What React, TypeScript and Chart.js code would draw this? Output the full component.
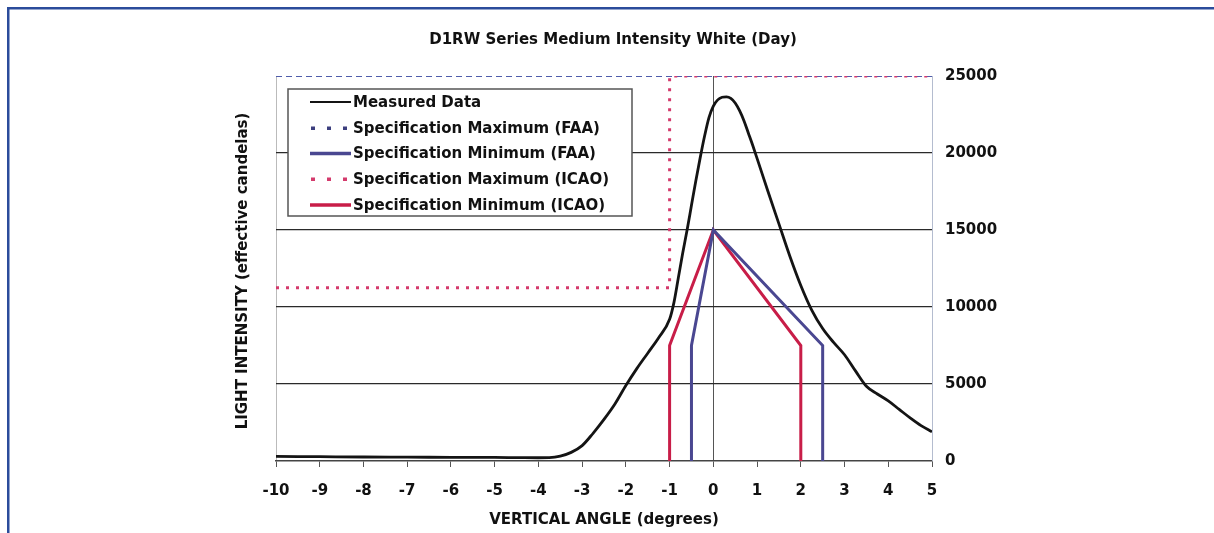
import React, { useEffect, useRef } from "react";
import { Chart, registerables } from "chart.js";

Chart.register(...registerables);

const TITLE = "D1RW Series Medium Intensity White (Day)";
const X_TITLE = "VERTICAL ANGLE (degrees)";
const Y_TITLE = "LIGHT INTENSITY (effective candelas)";

const seriesNames = [
  "Measured Data",
  "Specification Maximum (FAA)",
  "Specification Minimum (FAA)",
  "Specification Maximum (ICAO)",
  "Specification Minimum (ICAO)",
];

const measuredX = [
  -10, -9, -8, -7, -6, -5, -4.5, -4, -3.75, -3.5, -3.25, -3, -2.75, -2.5, -2.25, -2, -1.75, -1.5, -1.25, -1,
  -0.9, -0.8, -0.7, -0.6, -0.5, -0.4, -0.3, -0.2, -0.1, 0, 0.1, 0.2, 0.3, 0.4, 0.5, 0.6, 0.7, 0.8, 0.9, 1,
  1.25, 1.5, 1.75, 2, 2.25, 2.5, 2.75, 3, 3.25, 3.5, 3.75, 4, 4.25, 4.5, 4.75, 5,
];
const measuredY = [
  300, 280, 260, 250, 240, 230, 220, 210, 220, 320, 560, 1000, 1800, 2700, 3700, 4900, 6000, 7000, 8000, 9200,
  10300, 11900, 13500, 15000, 16600, 18200, 19700, 21100, 22300, 23050, 23450, 23620, 23650, 23550, 23250, 22750, 22100, 21300, 20500, 19650,
  17500, 15400, 13300, 11400, 9800, 8600, 7700, 6900, 5850, 4850, 4350, 3900, 3350, 2800, 2300, 1900,
];

const faaMaxX = [-10, 5];
const faaMaxY = [25000, 25000];

const faaMinX = [-0.5, -0.5, 0, 2.5, 2.5];
const faaMinY = [0, 7500, 15000, 7500, 0];

const icaoMaxX = [-10, -1, -1, 5];
const icaoMaxY = [11250, 11250, 25000, 25000];

const icaoMinX = [-1, -1, 0, 2, 2];
const icaoMinY = [0, 7500, 15000, 7500, 0];

const X_MIN = -10;
const X_MAX = 5;
const Y_MIN = 0;
const Y_MAX = 25000;
const Y_STEP = 5000;

const zip = (xs: number[], ys: number[]) => xs.map((x, i) => ({ x, y: ys[i] }));

const FONT = "'DejaVu Sans', 'Liberation Sans', sans-serif";

const COLORS = {
  measured: "#141414",
  faaMax: "#4f5cab",
  faaMin: "#4a4791",
  icaoMax: "#d43a6c",
  icaoMin: "#c81d48",
};

const decorPlugin = {
  id: "decor",
  afterDraw(chart: any) {
    const ctx = chart.ctx as CanvasRenderingContext2D;
    ctx.save();

    // outer frame
    ctx.strokeStyle = "#2b4c9b";
    ctx.lineWidth = 2.5;
    ctx.beginPath();
    ctx.moveTo(8.25, 533);
    ctx.lineTo(8.25, 8.25);
    ctx.lineTo(1214, 8.25);
    ctx.stroke();

    ctx.fillStyle = "#111";
    ctx.font = `bold 15px ${FONT}`;
    ctx.textAlign = "center";
    ctx.textBaseline = "middle";
    ctx.fillText(TITLE, 613, 40);
    ctx.fillText(X_TITLE, 604, 520);

    ctx.save();
    ctx.translate(243, 271);
    ctx.rotate(-Math.PI / 2);
    ctx.fillText(Y_TITLE, 0, 0);
    ctx.restore();

    // legend box
    const bx = 288, by = 89, bw = 344, bh = 127;
    ctx.fillStyle = "#ffffff";
    ctx.fillRect(bx, by, bw, bh);
    ctx.strokeStyle = "#555";
    ctx.lineWidth = 1.5;
    ctx.strokeRect(bx, by, bw, bh);

    const rows = [102, 128, 153.5, 179, 205];
    const styles = [
      { color: COLORS.measured, dotted: false, w: 2.2 },
      { color: "#3c3f7e", dotted: true, w: 3 },
      { color: COLORS.faaMin, dotted: false, w: 3.5 },
      { color: COLORS.icaoMax, dotted: true, w: 3 },
      { color: COLORS.icaoMin, dotted: false, w: 3.5 },
    ];
    ctx.font = `bold 15px ${FONT}`;
    ctx.textAlign = "left";
    ctx.textBaseline = "middle";
    rows.forEach((yy, i) => {
      const s = styles[i];
      if (s.dotted) {
        ctx.fillStyle = s.color;
        [313, 329, 345].forEach((dx) => ctx.fillRect(dx - 2, yy - 1.5, 4, 3.5));
      } else {
        ctx.strokeStyle = s.color;
        ctx.lineWidth = s.w;
        ctx.beginPath();
        ctx.moveTo(310, yy);
        ctx.lineTo(351, yy);
        ctx.stroke();
      }
      ctx.fillStyle = "#111";
      ctx.fillText(seriesNames[i], 353, yy + 1);
    });

    ctx.restore();
  },
};

export default function App() {
  const canvasRef = useRef<HTMLCanvasElement | null>(null);

  useEffect(() => {
    if (!canvasRef.current) return;
    Chart.defaults.font.family = FONT;
    const chart = new Chart(canvasRef.current, {
      type: "line",
      data: {
        datasets: [
          {
            label: seriesNames[0],
            data: zip(measuredX, measuredY),
            borderColor: COLORS.measured,
            borderWidth: 2.8,
            pointRadius: 0,
            cubicInterpolationMode: "monotone",
            order: 0,
          },
          {
            label: seriesNames[1],
            data: zip(faaMaxX, faaMaxY),
            borderColor: COLORS.faaMax,
            borderWidth: 2,
            borderDash: [6, 4],
            pointRadius: 0,
            tension: 0,
            order: 5,
          },
          {
            label: seriesNames[2],
            data: zip(faaMinX, faaMinY),
            borderColor: COLORS.faaMin,
            borderWidth: 3,
            pointRadius: 0,
            tension: 0,
            order: 2,
          },
          {
            label: seriesNames[3],
            data: zip(icaoMaxX, icaoMaxY),
            borderColor: COLORS.icaoMax,
            borderWidth: 3,
            borderDash: [3, 7],
            pointRadius: 0,
            tension: 0,
            order: 4,
          },
          {
            label: seriesNames[4],
            data: zip(icaoMinX, icaoMinY),
            borderColor: COLORS.icaoMin,
            borderWidth: 3,
            pointRadius: 0,
            tension: 0,
            order: 3,
          },
        ] as any,
      },
      options: {
        animation: false,
        responsive: false,
        maintainAspectRatio: false,
        layout: { padding: { left: 276, top: 76, right: 0, bottom: 0 } },
        plugins: {
          legend: { display: false },
          title: { display: false },
          tooltip: { enabled: false },
        },
        scales: {
          x: {
            type: "linear",
            min: X_MIN,
            max: X_MAX,
            afterFit: (s: any) => {
              s.height = 72;
            },
            ticks: {
              stepSize: 1,
              color: "#111",
              font: { family: FONT, size: 15, weight: "bold" },
              padding: 15,
              maxRotation: 0,
              autoSkip: false,
            },
            grid: {
              color: (c: any) =>
                c.tick && c.tick.value === 0 ? "#555" : c.tick && c.tick.value === X_MIN ? "#bbb" : "rgba(0,0,0,0)",
              lineWidth: 1,
              tickColor: "#555",
              tickLength: 6,
            },
            border: { display: true, color: "#444", width: 1.5 },
          },
          y: {
            type: "linear",
            position: "right",
            min: Y_MIN,
            max: Y_MAX,
            afterFit: (s: any) => {
              s.width = 282;
            },
            ticks: {
              stepSize: Y_STEP,
              color: "#111",
              font: { family: FONT, size: 15, weight: "bold" },
              padding: 13,
              callback: (v: any) => String(v),
            },
            grid: {
              color: (c: any) =>
                c.tick && (c.tick.value === Y_MIN || c.tick.value === Y_MAX) ? "rgba(0,0,0,0)" : "#2a2a2a",
              lineWidth: 1.2,
              drawTicks: false,
            },
            border: { display: true, color: "#b4bccf", width: 1 },
          },
        },
      } as any,
      plugins: [decorPlugin],
    });
    return () => chart.destroy();
  }, []);

  return (
    <div style={{ position: "fixed", left: 0, top: 0, width: 1214, height: 533, background: "#fff" }}>
      <canvas ref={canvasRef} width={1214} height={533} style={{ width: 1214, height: 533, display: "block" }} />
    </div>
  );
}
